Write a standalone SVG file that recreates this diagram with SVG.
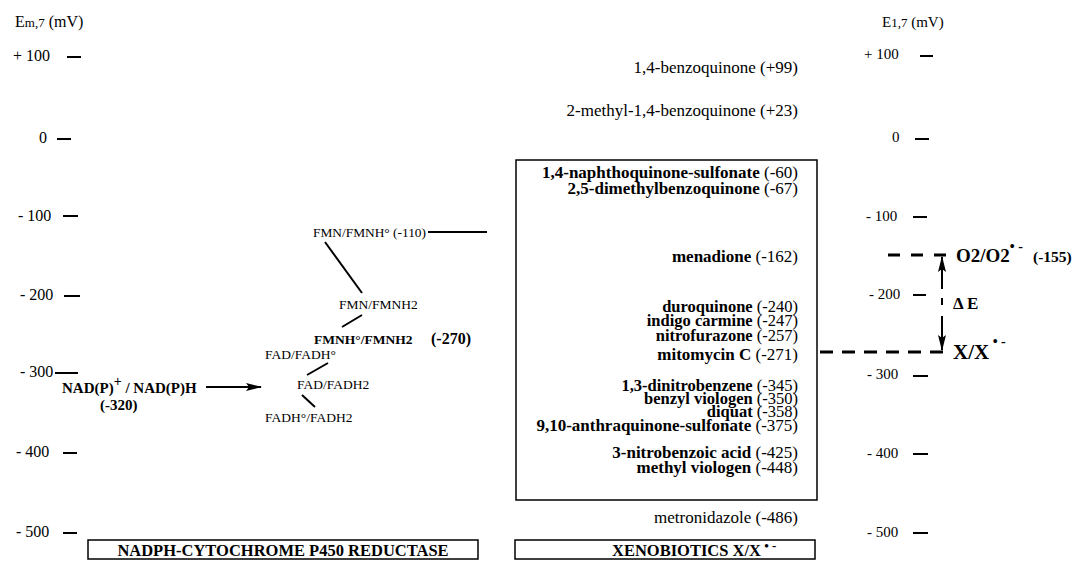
<svg xmlns="http://www.w3.org/2000/svg" width="1088" height="561" viewBox="0 0 1088 561">
<style>
text{font-family:"Liberation Serif","Times New Roman",serif;fill:#000}
.ax{font-size:16px}
.axr{font-size:15px}
.x{font-size:17px;text-anchor:end}
.t{font-size:16.5px}
.b{font-weight:bold}
.fl{font-size:13.5px}
.tick{stroke:#000;stroke-width:2}
.ln{stroke:#000;stroke-width:2;fill:none}
.dash{stroke:#000;stroke-width:3;fill:none}
.box{fill:none;stroke:#000;stroke-width:1.5}
</style>
<defs>
<marker id="ah" viewBox="0 0 16 8" refX="15" refY="4" markerWidth="16" markerHeight="8" markerUnits="userSpaceOnUse" orient="auto">
<path d="M0,0 L16,4 L0,8 L3,4 Z" fill="#000"/>
</marker>
</defs>
<rect width="1088" height="561" fill="#fff"/>

<g id="left-axis">
<text class="ax" x="15" y="27">E<tspan font-size="13">m,7</tspan> (mV)</text>
<text class="ax" x="13" y="61">+ 100</text><line class="tick" x1="67" y1="57" x2="81" y2="57"/>
<text class="ax" x="39" y="143">0</text><line class="tick" x1="57" y1="139" x2="71" y2="139"/>
<text class="ax" x="18" y="221">- 100</text><line class="tick" x1="63" y1="216" x2="78" y2="216"/>
<text class="ax" x="20" y="300">- 200</text><line class="tick" x1="64" y1="296" x2="80" y2="296"/>
<text class="ax" x="20" y="377">- 300</text><line class="tick" x1="55" y1="373" x2="78" y2="373"/>
<text class="ax" x="16" y="457">- 400</text><line class="tick" x1="63" y1="453" x2="77" y2="453"/>
<text class="ax" x="16" y="537">- 500</text><line class="tick" x1="63" y1="533" x2="77" y2="533"/>
</g>

<g id="right-axis">
<text class="axr" x="882" y="27" font-size="16">E<tspan font-size="13">1,7</tspan> (mV)</text>
<text class="axr" x="864" y="59">+ 100</text><line class="tick" x1="920" y1="56" x2="933" y2="56"/>
<text class="axr" x="892" y="142">0</text><line class="tick" x1="915" y1="139" x2="929" y2="139"/>
<text class="axr" x="866" y="221">- 100</text><line class="tick" x1="913" y1="217" x2="927" y2="217"/>
<text class="axr" x="869" y="299">- 200</text><line class="tick" x1="913" y1="295" x2="926" y2="295"/>
<text class="axr" x="867" y="379">- 300</text><line class="tick" x1="913" y1="376" x2="928" y2="376"/>
<text class="axr" x="867" y="458">- 400</text><line class="tick" x1="913" y1="454" x2="928" y2="454"/>
<text class="axr" x="867" y="537">- 500</text><line class="tick" x1="913" y1="533" x2="928" y2="533"/>
</g>

<g id="flavins">
<text class="fl" x="313" y="237" textLength="113" lengthAdjust="spacingAndGlyphs">FMN/FMNH° (-110)</text>
<text class="fl" x="339" y="309">FMN/FMNH2</text>
<text class="fl b" x="314" y="344">FMNH°/FMNH2</text>
<text class="b" x="431" y="344" font-size="16">(-270)</text>
<text class="fl" x="265" y="359">FAD/FADH°</text>
<text class="fl" x="297" y="389">FAD/FADH2</text>
<text class="fl" x="265" y="422">FADH°/FADH2</text>
</g>

<g id="nadph">
<text class="b" x="62" y="393" font-size="15">NAD(P)<tspan dy="-7" font-size="14">+</tspan><tspan dy="7"> / NAD(P)H</tspan></text>
<text class="b" x="100" y="410" font-size="15">(-320)</text>
</g>

<g id="xenobiotics">
<rect class="box" x="516" y="160" width="301" height="340"/>
<text class="x" x="798" y="73" font-size="18">1,4-benzoquinone (+99)</text>
<text class="x" x="798" y="116" font-size="18">2-methyl-1,4-benzoquinone (+23)</text>
<text class="x" x="798" y="178"><tspan class="b">1,4-naphthoquinone-sulfonate</tspan> (-60)</text>
<text class="x" x="798" y="194"><tspan class="b">2,5-dimethylbenzoquinone</tspan> (-67)</text>
<text class="x" x="798" y="262"><tspan class="b">menadione</tspan> (-162)</text>
<text class="x t" x="798" y="312"><tspan class="b">duroquinone</tspan> (-240)</text>
<text class="x t" x="798" y="326"><tspan class="b">indigo carmine</tspan> (-247)</text>
<text class="x t" x="798" y="341"><tspan class="b">nitrofurazone</tspan> (-257)</text>
<text class="x" x="798" y="360"><tspan class="b">mitomycin C</tspan> (-271)</text>
<text class="x t" x="798" y="391"><tspan class="b">1,3-dinitrobenzene</tspan> (-345)</text>
<text class="x t" x="798" y="404"><tspan class="b">benzyl viologen</tspan> (-350)</text>
<text class="x t" x="798" y="417"><tspan class="b">diquat</tspan> (-358)</text>
<text class="x" x="798" y="431"><tspan class="b">9,10-anthraquinone-sulfonate</tspan> (-375)</text>
<text class="x" x="798" y="458"><tspan class="b">3-nitrobenzoic acid</tspan> (-425)</text>
<text class="x" x="798" y="473"><tspan class="b">methyl viologen</tspan> (-448)</text>
<text class="x" x="798" y="523" font-size="17.5">metronidazole (-486)</text>
</g>

<g id="oxygen">
<text class="b" x="956" y="262" font-size="19">O2/O2<tspan dy="-11" font-size="14">• -</tspan></text>
<text class="b" x="1033" y="262" font-size="15.5">(-155)</text>
<text class="b" x="953" y="309" font-size="17">Δ E</text>
</g>

<g id="xradical">
<text class="b" x="953" y="359" font-size="21">X/X<tspan dy="-13" font-size="14"> • -</tspan></text>
</g>

<g id="labels">
<rect class="box" x="88" y="540" width="390" height="19"/>
<text class="b" x="283" y="556" font-size="16.5" text-anchor="middle">NADPH-CYTOCHROME P450 REDUCTASE</text>
<rect class="box" x="515" y="540" width="300" height="19"/>
<text class="b" x="612" y="556" font-size="16.5">XENOBIOTICS  X/X<tspan dy="-6" font-size="13"> • -</tspan></text>
</g>

<g id="connectors">
<line class="ln" x1="428" y1="232" x2="487" y2="232"/>
<line class="ln" x1="325" y1="242" x2="362" y2="293"/>
<line class="ln" x1="362" y1="315" x2="342" y2="327"/>
<line class="ln" x1="328" y1="363" x2="307" y2="375"/>
<line class="ln" x1="302" y1="395" x2="315" y2="407"/>
<line class="ln" x1="206" y1="387" x2="261" y2="387" marker-end="url(#ah)"/>
<line class="dash" x1="888" y1="255" x2="946" y2="255" stroke-dasharray="12 11"/>
<line class="dash" x1="820" y1="352" x2="946" y2="352" stroke-dasharray="13 9"/>
<line class="ln" x1="942" y1="289" x2="942" y2="257" marker-end="url(#ah)"/>
<line class="ln" x1="942" y1="298" x2="942" y2="305"/>
<line class="ln" x1="942" y1="316" x2="942" y2="350" marker-end="url(#ah)"/>
</g>
</svg>
